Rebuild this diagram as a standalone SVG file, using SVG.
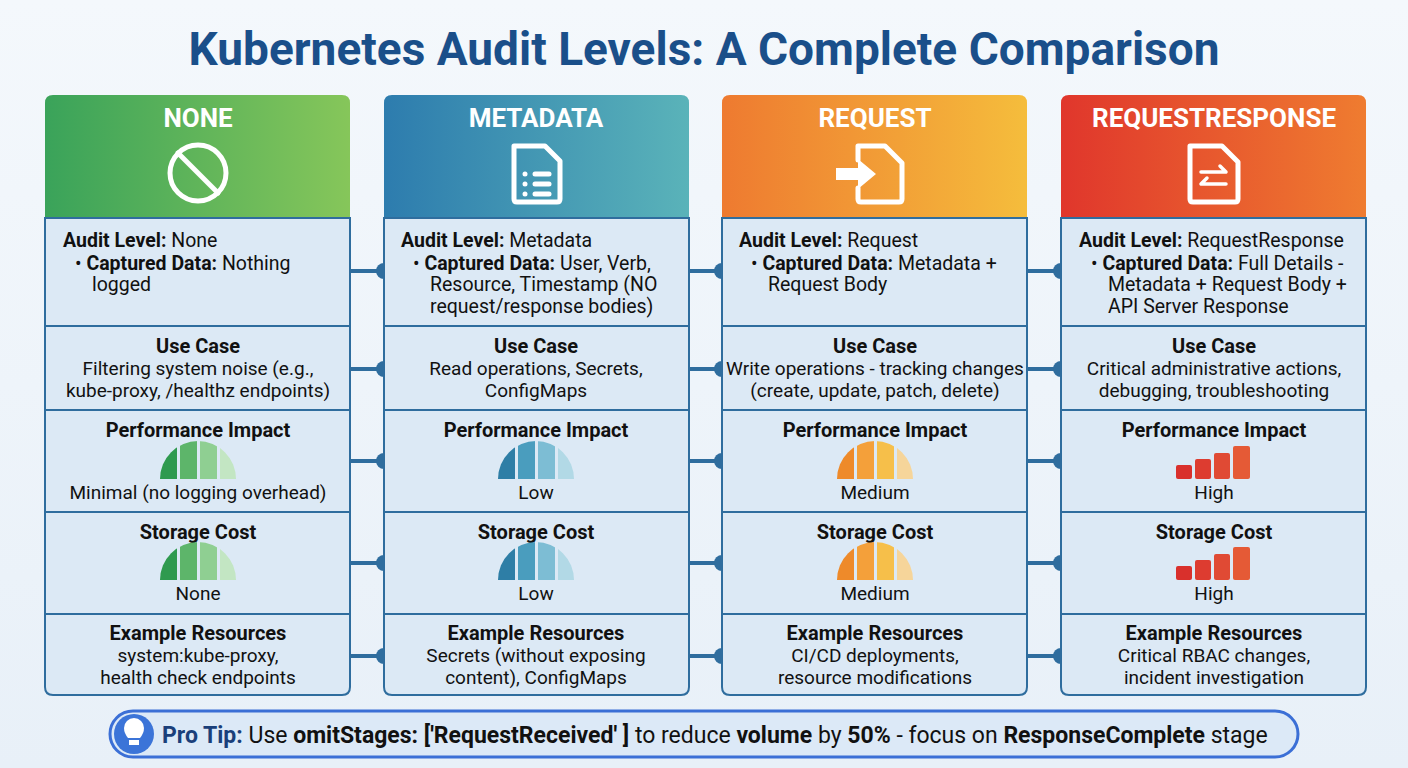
<svg xmlns="http://www.w3.org/2000/svg" width="1408" height="768" viewBox="0 0 1408 768">
<defs>
<linearGradient id="bg" x1="0" y1="0" x2="0" y2="1"><stop offset="0" stop-color="#f4f8fc"/><stop offset="1" stop-color="#e8f0f8"/></linearGradient>
<linearGradient id="gG" x1="0" y1="0" x2="1" y2="0"><stop offset="0" stop-color="#3aa35a"/><stop offset="1" stop-color="#86c65a"/></linearGradient>
<linearGradient id="gB" x1="0" y1="0" x2="1" y2="0"><stop offset="0" stop-color="#2d7cae"/><stop offset="1" stop-color="#5ab3b9"/></linearGradient>
<linearGradient id="gO" x1="0" y1="0" x2="1" y2="0"><stop offset="0" stop-color="#ee7a30"/><stop offset="1" stop-color="#f5bd3c"/></linearGradient>
<linearGradient id="gR" x1="0" y1="0" x2="1" y2="0"><stop offset="0" stop-color="#e0362c"/><stop offset="1" stop-color="#ef7c30"/></linearGradient>
<clipPath id="half"><path d="M-38,0 A38,38 0 0 1 38,0 Z"/></clipPath>
<g id="gaugeG" clip-path="url(#half)"><rect fill="#2f9a4f" x="-38" y="-38" width="17" height="38"/><rect fill="#5db56a" x="-18" y="-38" width="17" height="38"/><rect fill="#8fcf92" x="2" y="-38" width="17" height="38"/><rect fill="#c3e6c3" x="22" y="-38" width="17" height="38"/></g>
<g id="gaugeB" clip-path="url(#half)"><rect fill="#2e7ea6" x="-38" y="-38" width="17" height="38"/><rect fill="#4a9dbe" x="-18" y="-38" width="17" height="38"/><rect fill="#7dbdd4" x="2" y="-38" width="17" height="38"/><rect fill="#b2d9e6" x="22" y="-38" width="17" height="38"/></g>
<g id="gaugeO" clip-path="url(#half)"><rect fill="#ee8a2a" x="-38" y="-38" width="17" height="38"/><rect fill="#f4a03a" x="-18" y="-38" width="17" height="38"/><rect fill="#f6bf4a" x="2" y="-38" width="17" height="38"/><rect fill="#f6d59a" x="22" y="-38" width="17" height="38"/></g>
<g id="bars" fill="#e04a34">
<rect fill="#d9302c" x="-38" y="-14" width="16" height="14" rx="2"/><rect fill="#dd3c30" x="-19" y="-20" width="16" height="20" rx="2"/><rect fill="#e04a34" x="0" y="-26" width="16" height="26" rx="2"/><rect fill="#e55a36" x="19" y="-33" width="17" height="33" rx="2"/>
</g>
</defs>
<style>
text{font-family:Roboto,"Liberation Sans",sans-serif;fill:#111}
.t{font-size:19px;text-anchor:middle}
.h{font-size:20px;font-weight:bold;text-anchor:middle}
.l{font-size:19.5px}
.hd{font-size:26px;font-weight:bold;fill:#fff;text-anchor:middle}
.cell{fill:#dce9f5;stroke:#2f6d9e;stroke-width:2}
.conn line{stroke:#2f6d9e;stroke-width:4}
.conn circle{fill:#2f6d9e}
.ic{fill:none;stroke:#fff;stroke-width:5;stroke-linejoin:round;stroke-linecap:round}
</style>
<rect width="1408" height="768" fill="url(#bg)"/>
<text x="704" y="65" text-anchor="middle" style="font-size:46px;font-weight:bold;fill:#1a4f8a">Kubernetes Audit Levels: A Complete Comparison</text>

<g class="conn" id="connectors">
<line x1="350" y1="271" x2="384" y2="271"/><circle cx="384" cy="271" r="8"/>
<line x1="350" y1="369" x2="384" y2="369"/><circle cx="384" cy="369" r="8"/>
<line x1="350" y1="461" x2="384" y2="461"/><circle cx="384" cy="461" r="8"/>
<line x1="350" y1="563" x2="384" y2="563"/><circle cx="384" cy="563" r="8"/>
<line x1="350" y1="656" x2="384" y2="656"/><circle cx="384" cy="656" r="8"/>
<line x1="689" y1="271" x2="722" y2="271"/><circle cx="722" cy="271" r="8"/>
<line x1="689" y1="369" x2="722" y2="369"/><circle cx="722" cy="369" r="8"/>
<line x1="689" y1="461" x2="722" y2="461"/><circle cx="722" cy="461" r="8"/>
<line x1="689" y1="563" x2="722" y2="563"/><circle cx="722" cy="563" r="8"/>
<line x1="689" y1="656" x2="722" y2="656"/><circle cx="722" cy="656" r="8"/>
<line x1="1027" y1="271" x2="1061" y2="271"/><circle cx="1061" cy="271" r="8"/>
<line x1="1027" y1="369" x2="1061" y2="369"/><circle cx="1061" cy="369" r="8"/>
<line x1="1027" y1="461" x2="1061" y2="461"/><circle cx="1061" cy="461" r="8"/>
<line x1="1027" y1="563" x2="1061" y2="563"/><circle cx="1061" cy="563" r="8"/>
<line x1="1027" y1="656" x2="1061" y2="656"/><circle cx="1061" cy="656" r="8"/>
</g>

<g id="col-none">
<path d="M45,218 V103 Q45,95 53,95 H342 Q350,95 350,103 V218 Z" fill="url(#gG)"/>
<text class="hd" x="198" y="127">NONE</text>
<circle class="ic" cx="198" cy="173" r="28"/><line class="ic" x1="178" y1="153" x2="218" y2="193"/>
<rect class="cell" x="45" y="218" width="305" height="108"/>
<rect class="cell" x="45" y="326" width="305" height="84"/>
<rect class="cell" x="45" y="410" width="305" height="102"/>
<rect class="cell" x="45" y="512" width="305" height="102"/>
<path class="cell" d="M45,614 H350 V687 Q350,695 342,695 H53 Q45,695 45,687 Z"/>
<text class="l" x="63" y="247"><tspan font-weight="bold">Audit Level:</tspan> None</text>
<text class="l" x="75" y="270">•  <tspan font-weight="bold">Captured Data:</tspan> Nothing</text>
<text class="l" x="92" y="291">logged</text>
<text class="h" x="198" y="353">Use Case</text>
<text class="t" x="198" y="375">Filtering system noise (e.g.,</text>
<text class="t" x="198" y="397">kube-proxy, /healthz endpoints)</text>
<text class="h" x="198" y="437">Performance Impact</text>
<use href="#gaugeG" x="198" y="479"/>
<text class="t" x="198" y="499">Minimal (no logging overhead)</text>
<text class="h" x="198" y="539">Storage Cost</text>
<use href="#gaugeG" x="198" y="580"/>
<text class="t" x="198" y="600">None</text>
<text class="h" x="198" y="640">Example Resources</text>
<text class="t" x="198" y="662">system:kube-proxy,</text>
<text class="t" x="198" y="684">health check endpoints</text>
</g>

<g id="col-metadata">
<path d="M384,218 V103 Q384,95 392,95 H681 Q689,95 689,103 V218 Z" fill="url(#gB)"/>
<text class="hd" x="536" y="127">METADATA</text>
<path class="ic" d="M514,146 H545 L560,161 V199 Q560,202 557,202 H517 Q514,202 514,199 Z"/>
<line class="ic" x1="535" y1="174" x2="549" y2="174"/><line class="ic" x1="535" y1="184" x2="549" y2="184"/><line class="ic" x1="535" y1="194" x2="549" y2="194"/>
<line class="ic" x1="525" y1="174" x2="525" y2="174"/><line class="ic" x1="525" y1="184" x2="525" y2="184"/><line class="ic" x1="525" y1="194" x2="525" y2="194"/>
<rect class="cell" x="384" y="218" width="305" height="108"/>
<rect class="cell" x="384" y="326" width="305" height="84"/>
<rect class="cell" x="384" y="410" width="305" height="102"/>
<rect class="cell" x="384" y="512" width="305" height="102"/>
<path class="cell" d="M384,614 H689 V687 Q689,695 681,695 H392 Q384,695 384,687 Z"/>
<text class="l" x="401" y="247"><tspan font-weight="bold">Audit Level:</tspan> Metadata</text>
<text class="l" x="413" y="270">•  <tspan font-weight="bold">Captured Data:</tspan> User, Verb,</text>
<text class="l" x="430" y="291">Resource, Timestamp (NO</text>
<text class="l" x="430" y="313">request/response bodies)</text>
<text class="h" x="536" y="353">Use Case</text>
<text class="t" x="536" y="375">Read operations, Secrets,</text>
<text class="t" x="536" y="397">ConfigMaps</text>
<text class="h" x="536" y="437">Performance Impact</text>
<use href="#gaugeB" x="536" y="479"/>
<text class="t" x="536" y="499">Low</text>
<text class="h" x="536" y="539">Storage Cost</text>
<use href="#gaugeB" x="536" y="580"/>
<text class="t" x="536" y="600">Low</text>
<text class="h" x="536" y="640">Example Resources</text>
<text class="t" x="536" y="662">Secrets (without exposing</text>
<text class="t" x="536" y="684">content), ConfigMaps</text>
</g>

<g id="col-request">
<path d="M722,218 V103 Q722,95 730,95 H1019 Q1027,95 1027,103 V218 Z" fill="url(#gO)"/>
<text class="hd" x="875" y="127">REQUEST</text>
<path class="ic" d="M858,160 V146 H885 L902,163 V199 Q902,202 899,202 H861 Q858,202 858,199 V188"/>
<path d="M836,168 H858 V159 L876,174 L858,189 V180 H836 Z" fill="#fff"/>
<rect class="cell" x="722" y="218" width="305" height="108"/>
<rect class="cell" x="722" y="326" width="305" height="84"/>
<rect class="cell" x="722" y="410" width="305" height="102"/>
<rect class="cell" x="722" y="512" width="305" height="102"/>
<path class="cell" d="M722,614 H1027 V687 Q1027,695 1019,695 H730 Q722,695 722,687 Z"/>
<text class="l" x="739" y="247"><tspan font-weight="bold">Audit Level:</tspan> Request</text>
<text class="l" x="751" y="270">•  <tspan font-weight="bold">Captured Data:</tspan> Metadata +</text>
<text class="l" x="768" y="291">Request Body</text>
<text class="h" x="875" y="353">Use Case</text>
<text class="t" x="875" y="375">Write operations - tracking changes</text>
<text class="t" x="875" y="397">(create, update, patch, delete)</text>
<text class="h" x="875" y="437">Performance Impact</text>
<use href="#gaugeO" x="875" y="479"/>
<text class="t" x="875" y="499">Medium</text>
<text class="h" x="875" y="539">Storage Cost</text>
<use href="#gaugeO" x="875" y="580"/>
<text class="t" x="875" y="600">Medium</text>
<text class="h" x="875" y="640">Example Resources</text>
<text class="t" x="875" y="662">CI/CD deployments,</text>
<text class="t" x="875" y="684">resource modifications</text>
</g>

<g id="col-requestresponse">
<path d="M1061,218 V103 Q1061,95 1069,95 H1358 Q1366,95 1366,103 V218 Z" fill="url(#gR)"/>
<text class="hd" x="1214" y="127">REQUESTRESPONSE</text>
<path class="ic" d="M1190,146 H1222 L1238,162 V199 Q1238,202 1235,202 H1193 Q1190,202 1190,199 Z"/>
<path class="ic" style="stroke-width:3.5" d="M1201,172 H1226 M1220,166 L1226,172 M1226,184 H1201 M1207,178 L1201,184"/>
<rect class="cell" x="1061" y="218" width="305" height="108"/>
<rect class="cell" x="1061" y="326" width="305" height="84"/>
<rect class="cell" x="1061" y="410" width="305" height="102"/>
<rect class="cell" x="1061" y="512" width="305" height="102"/>
<path class="cell" d="M1061,614 H1366 V687 Q1366,695 1358,695 H1069 Q1061,695 1061,687 Z"/>
<text class="l" x="1079" y="247"><tspan font-weight="bold">Audit Level:</tspan> RequestResponse</text>
<text class="l" x="1091" y="270">•  <tspan font-weight="bold">Captured Data:</tspan> Full Details -</text>
<text class="l" x="1108" y="291">Metadata + Request Body +</text>
<text class="l" x="1108" y="313">API Server Response</text>
<text class="h" x="1214" y="353">Use Case</text>
<text class="t" x="1214" y="375">Critical administrative actions,</text>
<text class="t" x="1214" y="397">debugging, troubleshooting</text>
<text class="h" x="1214" y="437">Performance Impact</text>
<use href="#bars" x="1214" y="479"/>
<text class="t" x="1214" y="499">High</text>
<text class="h" x="1214" y="539">Storage Cost</text>
<use href="#bars" x="1214" y="580"/>
<text class="t" x="1214" y="600">High</text>
<text class="h" x="1214" y="640">Example Resources</text>
<text class="t" x="1214" y="662">Critical RBAC changes,</text>
<text class="t" x="1214" y="684">incident investigation</text>
</g>

<g id="protip">
<rect x="110" y="711" width="1188" height="46" rx="23" fill="#dce9f7" stroke="#3b6fd6" stroke-width="3"/>
<circle cx="134" cy="734" r="20" fill="#3b74d8"/>
<path d="M128,738 Q124,733 124,728 A10,10 0 0 1 144,728 Q144,733 140,738 Z" fill="#fff"/>
<rect x="129" y="740" width="10" height="5" fill="#fff"/>
<text x="162" y="743" style="font-size:23px"><tspan font-weight="bold" fill="#1a3f7a">Pro Tip:</tspan> Use <tspan font-weight="bold">omitStages: ['RequestReceived' ]</tspan> to reduce <tspan font-weight="bold">volume</tspan> by <tspan font-weight="bold">50%</tspan> - focus on <tspan font-weight="bold">ResponseComplete</tspan> stage</text>
</g>
</svg>
